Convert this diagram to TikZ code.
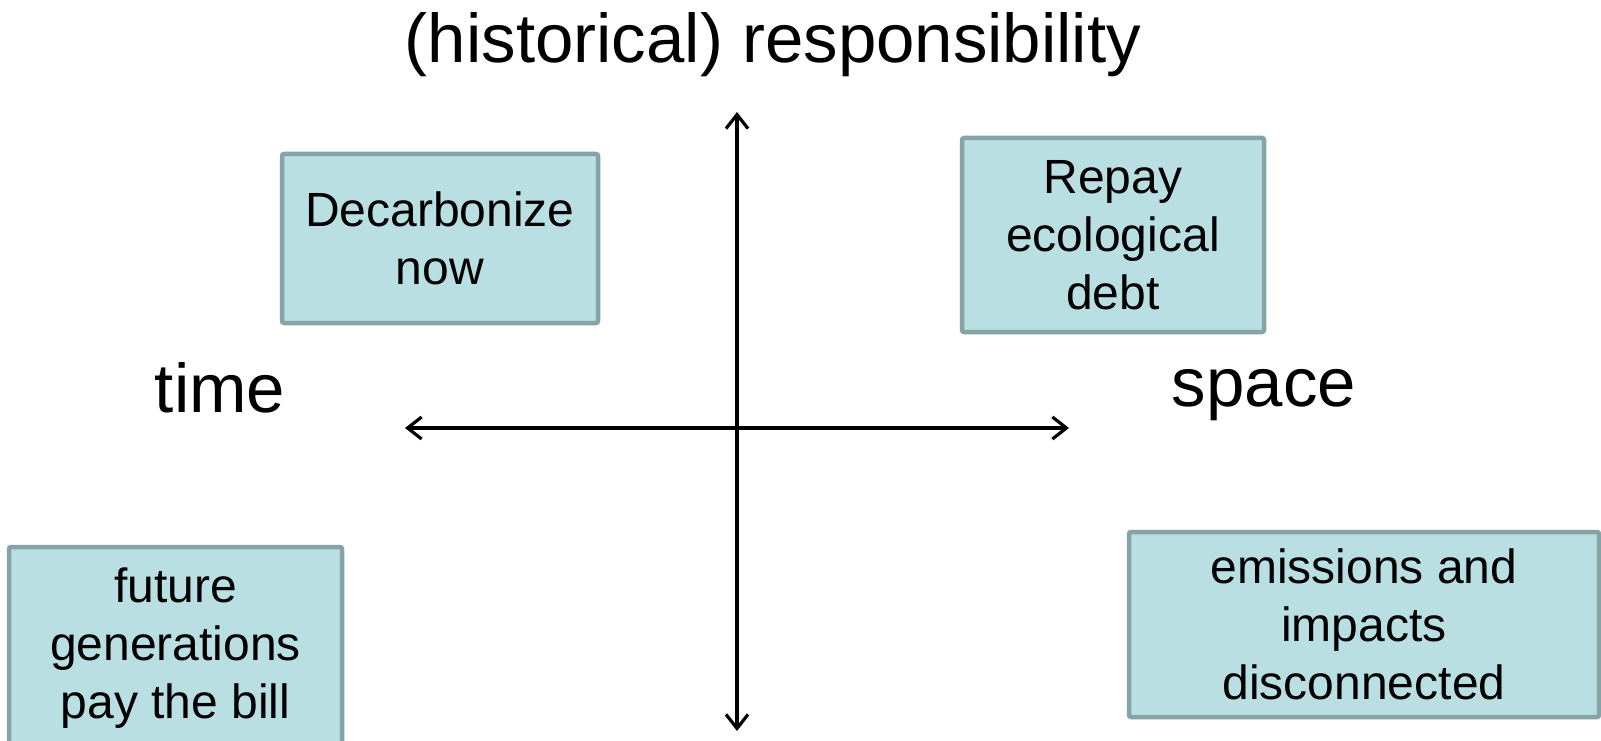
\documentclass[tikz,border=0pt]{standalone}
\usepackage{fontspec}
\setmainfont{Liberation Sans}
\usetikzlibrary{arrows.meta}
\definecolor{boxfill}{HTML}{B9DFE3}
\definecolor{boxline}{HTML}{86A3A6}
\begin{document}
\begin{tikzpicture}[x=1pt,y=-1pt,
  axis/.style={line width=3.2pt, {Straight Barb[length=14pt,width=22pt,line width=3.2pt]}-{Straight Barb[length=14pt,width=22pt,line width=3.2pt]}},
  quadbox/.style={draw=boxline, fill=boxfill, line width=4.5pt, rounded corners=2pt,
    align=center, inner sep=0pt, font=\fontsize{48}{58}\selectfont},
  bigtext/.style={font=\fontsize{69}{80}\selectfont, inner sep=0pt, anchor=base}]
\useasboundingbox (0,0) rectangle (1601,741);
\fill[white] (0,0) rectangle (1601,741);

% axis end points
\coordinate (ytop) at (737,112);
\coordinate (ybot) at (737,731);
\coordinate (xleft) at (405,428);
\coordinate (xright) at (1069,428);
\draw[axis] (xleft) -- (xright);
\draw[axis] (ytop) -- (ybot);

% axis captions
\node[bigtext] (resp) at (773,63) {(historical) responsibility};
\node[bigtext] (time) at (220,412) {time};
\node[bigtext] (space) at (1264,406) {space};

% quadrant boxes
\node[quadbox, minimum width=316pt, minimum height=169pt] (decarb) at (440,238.5)
  {Decarbonize\\now};
\node[quadbox, minimum width=302pt, minimum height=194pt] (repay) at (1113,235)
  {Repay\\ecological\\debt};
\node[quadbox, minimum width=333pt, minimum height=202pt] (future) at (175.5,648)
  {future\\generations\\pay the bill};
\node[quadbox, minimum width=470pt, minimum height=185pt] (emis) at (1364,624.5)
  {emissions and\\impacts\\disconnected};
\end{tikzpicture}
\end{document}
